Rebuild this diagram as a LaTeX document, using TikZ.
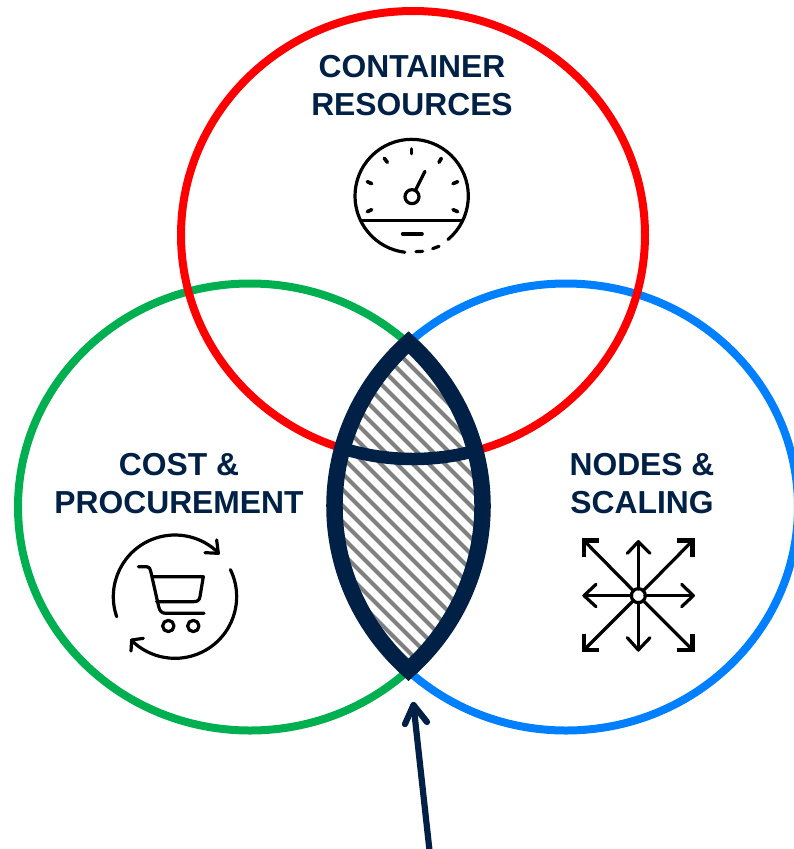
\documentclass[tikz,border=0pt]{standalone}
\usepackage{fontspec}
\setmainfont{Liberation Sans}
\definecolor{navy}{HTML}{002045}
\definecolor{cred}{HTML}{FF0000}
\definecolor{cgreen}{HTML}{00B050}
\definecolor{cblue}{HTML}{0080FF}
\definecolor{hatch}{HTML}{808080}
\tikzset{
  ring/.style={line width=8pt},
  label/.style={font=\fontsize{31.8}{38}\selectfont\bfseries,text=navy,anchor=base,inner sep=0pt},
  icon/.style={line width=3.2pt,line cap=round,line join=round,black},
  lens/.style={line width=16.5pt,navy,miter limit=20},
}
\newcommand{\lenspath}{(408.5,342.5) arc[start angle=227.08,end angle=132.92,x radius=232,y radius=223.5] arc[start angle=47.08,end angle=-47.08,x radius=232,y radius=223.5] -- cycle}
\begin{document}
\begin{tikzpicture}[x=1pt,y=-1pt]
\path[use as bounding box] (0,0) rectangle (794,849);
\clip (0,0) rectangle (794,849);
\draw[ring,cgreen] (250,507) ellipse[x radius=232,y radius=223.5];
\draw[ring,cblue] (566,507) ellipse[x radius=232,y radius=223.5];
\draw[ring,cred] (413,235) ellipse[x radius=232,y radius=224];
% lens
\fill[white] \lenspath;
\begin{scope}
\clip \lenspath;
\foreach \k in {-30,...,30}
  \draw[hatch,line width=4pt] ({417+\k*16-200},{500-200}) -- ({417+\k*16+200},{500+200});
\draw[navy,line width=12.5pt] (413,235) ++(115:232 and 224) arc[start angle=115,end angle=65,x radius=232,y radius=224];
\end{scope}
\draw[lens] \lenspath;
% labels
\node[label] (t1) at (412,77) {CONTAINER};
\node[label] (t2) at (412,115) {RESOURCES};
\node[label] (t3) at (179,475) {COST \&};
\node[label] (t4) at (179,513) {PROCUREMENT};
\node[label] (t5) at (642,475) {NODES \&};
\node[label] (t6) at (642,513) {SCALING};
% gauge
\begin{scope}[xshift=340pt,yshift=-130pt,x=0.3333pt,y=-0.3333pt,icon]
\draw (215,198) ++(50:170) arc[start angle=50,end angle=-263,radius=170];
\draw (228,365) -- (248,364);
\draw (278,356) -- (297,349);
\draw[line cap=butt] (62,272) -- (370,272);
\draw[line width=3.6pt] (188,312) -- (246,312);
\draw (226,182) -- (255,124);
\draw (216,200) circle[radius=21];
\foreach \a/\b/\c/\d in {215/57/215/71,133/85/142/97,297/97/304/85,82/155/95/161,339/161/353/155,82/245/95/239,339/239/353/245}
  \draw[line width=3.6pt] (\a,\b) -- (\c,\d);
\end{scope}
% cart
\begin{scope}[xshift=100pt,yshift=-525pt,x=0.3333pt,y=-0.3333pt,icon]
\draw (225,215) ++(161:185) arc[start angle=161,end angle=315,radius=185];
\draw (225,215) ++(334:185) arc[start angle=334,end angle=495,radius=185];
\draw (350,45) -- (355,85) -- (315,83);
\draw (130,340) -- (95,345) -- (93,378);
\draw (115,125) -- (140,125) .. controls (148,125) and (150,130) .. (152,138) -- (176,245) .. controls (179,258) and (185,265) .. (198,265) -- (312,265);
\draw (158,155) -- (310,155) -- (300,215) .. controls (298,226) and (292,230) .. (282,230) -- (170,230);
\draw (205,303) circle[radius=17];
\draw (280,303) circle[radius=17];
\end{scope}
% arrows icon
\begin{scope}[xshift=570pt,yshift=-525pt,x=0.3333pt,y=-0.3333pt,icon]
\draw (205,192) -- (205,50);
\draw (205,232) -- (205,375);
\draw (185,212) -- (42,212);
\draw (225,212) -- (370,212);
\draw (191,198) -- (45,50);
\draw (219,198) -- (365,50);
\draw (191,226) -- (45,372);
\draw (219,226) -- (365,372);
\draw (172,85) -- (205,50) -- (240,85);
\draw (172,338) -- (205,375) -- (240,338);
\draw (78,178) -- (42,212) -- (78,245);
\draw (335,178) -- (370,212) -- (335,245);
\begin{scope}[line width=4.6pt,line cap=butt,line join=miter]
\draw (42,95) -- (42,47) -- (88,47);
\draw (322,47) -- (368,47) -- (368,95);
\draw (42,328) -- (42,375) -- (88,375);
\draw (322,375) -- (368,375) -- (368,328);
\end{scope}
\draw (205,212) circle[radius=21];
\end{scope}
% pointer
\coordinate (pbase) at (430,855);
\coordinate (ptip) at (413.5,705);
\coordinate (parmL) at (405,724);
\coordinate (parmR) at (427,722);
\draw[navy,line width=6.2pt,line cap=round,line join=round] (pbase) -- (ptip);
\draw[navy,line width=6.2pt,line cap=round,line join=round] (parmL) -- (ptip) -- (parmR);
\end{tikzpicture}
\end{document}
